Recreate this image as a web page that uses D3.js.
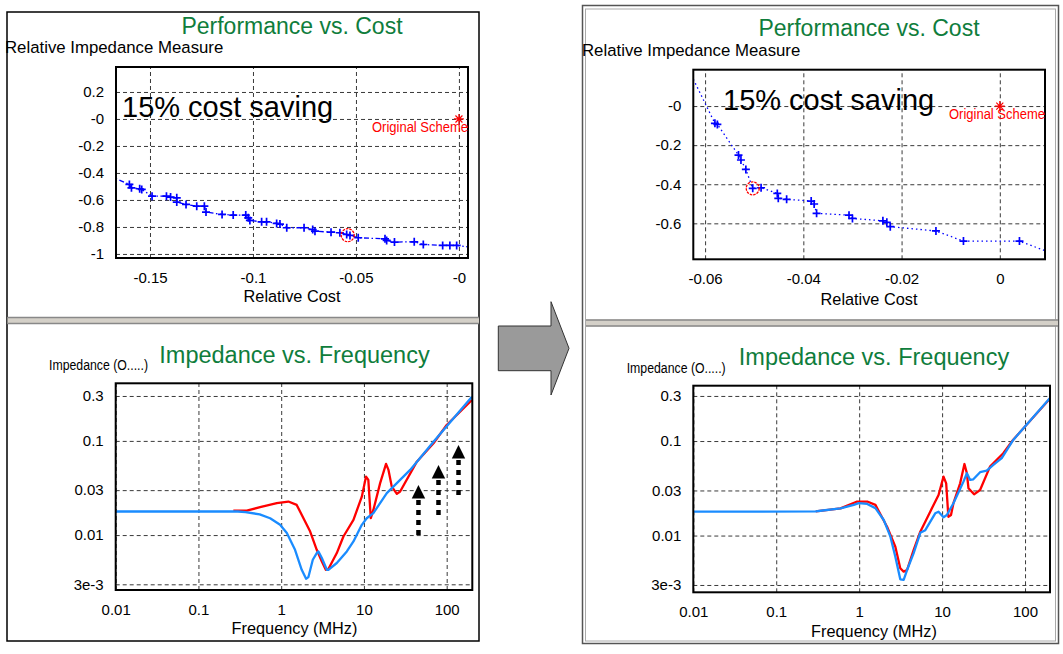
<!DOCTYPE html>
<html><head><meta charset="utf-8">
<script src="https://cdn.jsdelivr.net/npm/d3@7"></script>
<style>
html,body{margin:0;padding:0;background:#fff;}
svg{display:block;font-family:"Liberation Sans",Arial,sans-serif;}
</style></head><body>
<svg id="c" width="1063" height="654"></svg>
<script>
// ---------------- DATA ----------------
// Performance vs. Cost (before)
const costBefore = [-0.170,-0.160,-0.159,-0.155,-0.154,-0.149,-0.142,-0.140,-0.137,-0.137,-0.1325,-0.1273,-0.1236,-0.1228,-0.115,-0.1096,-0.1035,-0.1023,-0.1015,-0.0958,-0.0934,-0.0885,-0.0869,-0.0836,-0.0752,-0.0710,-0.0699,-0.0621,-0.0578,-0.0545,-0.0529,-0.0489,-0.0359,-0.0351,-0.0313,-0.0217,-0.0173,-0.0079,-0.0044,-0.0011,0.008];
const measureBefore = [-0.42,-0.485,-0.51,-0.517,-0.522,-0.572,-0.572,-0.579,-0.584,-0.616,-0.633,-0.646,-0.646,-0.690,-0.707,-0.712,-0.712,-0.732,-0.752,-0.762,-0.762,-0.774,-0.779,-0.806,-0.806,-0.819,-0.831,-0.839,-0.843,-0.856,-0.863,-0.880,-0.888,-0.900,-0.912,-0.910,-0.930,-0.937,-0.937,-0.937,-0.955];
const chosenBefore = [-0.054, -0.861];
// Performance vs. Cost (after)
const costAfter = [-0.0640,-0.0580,-0.0575,-0.0532,-0.0527,-0.0517,-0.0503,-0.0486,-0.0453,-0.0451,-0.0434,-0.0384,-0.0378,-0.0373,-0.0307,-0.0300,-0.0238,-0.0230,-0.0223,-0.0130,-0.0074,0.0040,0.0120];
const measureAfter = [0.22,-0.0885,-0.094,-0.251,-0.276,-0.324,-0.421,-0.418,-0.447,-0.472,-0.477,-0.486,-0.501,-0.549,-0.558,-0.575,-0.587,-0.595,-0.617,-0.639,-0.691,-0.691,-0.766];
const chosenAfter = [-0.0503, -0.421];
const originalScheme = [0, 0];

// Impedance vs. Frequency (before)
const freqBlueBefore = [0.01,0.3,0.37,0.55,0.735,0.97,1.17,1.47,1.77,2.0,2.13,2.41,2.69,2.82,3.10,3.56,3.72,4.70,6.21,7.47,9.43,10.8,13.0,18.9,25.0,36.2,69.3,202];
const zBlueBefore = [0.0178,0.0178,0.0175,0.0166,0.0151,0.01285,0.0105,0.00698,0.00428,0.00343,0.00357,0.00547,0.00644,0.0067,0.0057,0.00428,0.00428,0.00505,0.0067,0.00855,0.01285,0.0151,0.0171,0.0279,0.0356,0.0492,0.098,0.295];
const freqRedBefore = [0.264,0.384,0.556,0.885,1.22,1.54,2.24,2.69,3.10,3.46,3.72,4.70,5.65,7.47,9.43,10.6,11.3,12.1,13.0,15.7,18.5,19.8,21.7,25.0,27.4,43.6,69.3,100,202];
const zRedBefore = [0.0182,0.0182,0.0198,0.0218,0.0227,0.0209,0.0109,0.00698,0.00525,0.00428,0.00436,0.00644,0.00966,0.0145,0.0256,0.0418,0.0385,0.0151,0.0185,0.0356,0.057,0.0492,0.0327,0.0274,0.029,0.0602,0.0944,0.1475,0.272];
// annotation arrows (before)
const arrowFreq = [45.6, 79.6, 139];
const arrowFrom = [0.0089, 0.0145, 0.0237];
const arrowTo = [0.034, 0.0556, 0.0906];

// Impedance vs. Frequency (after)
const freqBlueAfter = [0.01,0.3,0.343,0.596,0.861,0.989,1.25,1.57,1.98,2.38,2.73,3.13,3.44,3.78,4.53,5.46,6.27,8.26,9.06,10.4,11.4,13.7,18.1,19.9,21.8,23.8,28.7,34.5,41.5,52.4,72.1,199];
const zBlueAfter = [0.0179,0.0180,0.0183,0.0194,0.0211,0.022,0.0216,0.0195,0.0146,0.00973,0.00597,0.00344,0.00339,0.00432,0.00649,0.0107,0.0114,0.0172,0.0179,0.0156,0.0165,0.022,0.0372,0.0456,0.0388,0.0394,0.0468,0.0486,0.0559,0.0658,0.1026,0.284];
const freqRedAfter = [0.3,0.596,0.946,1.25,1.57,2.17,2.73,3.13,3.44,3.78,4.53,5.46,7.19,9.06,10.4,11.2,11.9,12.8,13.7,16.5,18.6,19.9,20.8,24.3,28.7,37.8,54.7,71.6,199];
const zRedAfter = [0.0180,0.0194,0.0229,0.0229,0.0211,0.0124,0.00762,0.00451,0.00415,0.00432,0.00703,0.011,0.0179,0.0269,0.042,0.0357,0.0158,0.0165,0.022,0.0357,0.0571,0.0456,0.0316,0.0273,0.0303,0.0536,0.0743,0.1026,0.28];

// tick values / labels
const costTicksBefore = [-0.15,-0.1,-0.05,0];
const costLabelsBefore = ["-0.15","-0.1","-0.05","-0"];
const measureTicksBefore = [0.2,0,-0.2,-0.4,-0.6,-0.8,-1];
const measureLabelsBefore = ["0.2","-0","-0.2","-0.4","-0.6","-0.8","-1"];
const costTicksAfter = [-0.06,-0.04,-0.02,0];
const costLabelsAfter = ["-0.06","-0.04","-0.02","0"];
const measureTicksAfter = [0,-0.2,-0.4,-0.6];
const measureLabelsAfter = ["-0","-0.2","-0.4","-0.6"];
const freqTicks = [0.01,0.1,1,10,100];
const freqLabels = ["0.01","0.1","1","10","100"];
const zTicks = [0.3,0.1,0.03,0.01,0.003];
const zLabels = ["0.3","0.1","0.03","0.01","3e-3"];

// ---------------- DRAW ----------------
const svg = d3.select('#c');
const GREEN = '#0f7d3c';
const BLUE_LINE = '#1a8cff';
const defs = svg.append('defs');

// panel frames
svg.append('rect').attr('x',7).attr('y',12).attr('width',472).attr('height',629)
  .attr('fill','#fff').attr('stroke','#000').attr('stroke-width',1.5);
svg.append('rect').attr('x',582.5).attr('y',5.5).attr('width',476).attr('height',638)
  .attr('fill','#fff').attr('stroke','#555').attr('stroke-width',1.5);
svg.append('rect').attr('x',585.5).attr('y',9).attr('width',470).attr('height',632)
  .attr('fill','none').attr('stroke','#aaa').attr('stroke-width',1);

function separator(x0, x1, y) {
  svg.append('rect').attr('x',x0).attr('y',y).attr('width',x1-x0).attr('height',7)
    .attr('fill','#d4d0c8');
  svg.append('line').attr('x1',x0).attr('x2',x1).attr('y1',y+0.5).attr('y2',y+0.5).attr('stroke','#888').attr('stroke-width',1.5);
  svg.append('line').attr('x1',x0).attr('x2',x1).attr('y1',y+6.5).attr('y2',y+6.5).attr('stroke','#888').attr('stroke-width',1.5);
}
separator(7.5, 479, 317);
separator(586, 1058, 319.5);

// big gray arrow
svg.append('path')
  .attr('d','M498.3,326 L551,326 L551,301.7 L569,348.3 L551,395 L551,370.7 L498.3,370.7 Z')
  .attr('fill','#9a9a9a').attr('stroke','#333').attr('stroke-width',1);

function text(x, y, s, opts) {
  const t = svg.append('text').attr('x',x).attr('y',y).text(s)
    .attr('font-size',opts.size).attr('fill',opts.fill||'#000')
    .attr('text-anchor',opts.anchor||'start');
  if (opts.len) t.attr('textLength',opts.len).attr('lengthAdjust','spacingAndGlyphs');
  return t;
}

function styleGrid(sel) {
  sel.select('.domain').remove();
  sel.selectAll('.tick line').attr('stroke','#3a3a3a').attr('stroke-width',1).attr('stroke-dasharray','4,3');
  sel.selectAll('.tick text').remove();
}
function styleLabels(sel) {
  sel.select('.domain').remove();
  sel.selectAll('.tick line').remove();
  sel.selectAll('.tick text').attr('font-size',15).attr('fill','#000')
    .attr('font-family','"Liberation Sans",Arial,sans-serif');
}

function frame(c, x, y, xTicks, xLabels, yTicks, yLabels, id) {
  const w = c.x1 - c.x0, h = c.y1 - c.y0;
  svg.append('g').attr('transform',`translate(0,${c.y1})`)
    .call(d3.axisBottom(x).tickValues(xTicks).tickSize(-h).tickFormat('')).call(styleGrid);
  svg.append('g').attr('transform',`translate(${c.x0},0)`)
    .call(d3.axisLeft(y).tickValues(yTicks).tickSize(-w).tickFormat('')).call(styleGrid);
  svg.append('g').attr('transform',`translate(0,${c.y1})`)
    .call(d3.axisBottom(x).tickValues(xTicks).tickSize(0).tickPadding(14).tickFormat((d,i)=>xLabels[i])).call(styleLabels);
  svg.append('g').attr('transform',`translate(${c.x0},0)`)
    .call(d3.axisLeft(y).tickValues(yTicks).tickSize(0).tickPadding(12).tickFormat((d,i)=>yLabels[i])).call(styleLabels);
  defs.append('clipPath').attr('id',id).append('rect')
    .attr('x',c.x0).attr('y',c.y0).attr('width',w).attr('height',h);
  return svg.append('g').attr('clip-path',`url(#${id})`);
}
function border(c) {
  svg.append('rect').attr('x',c.x0).attr('y',c.y0).attr('width',c.x1-c.x0).attr('height',c.y1-c.y0)
    .attr('fill','none').attr('stroke','#000').attr('stroke-width',2);
}

function scatter(c) {
  const x = d3.scaleLinear().domain(c.xDomain).range([c.x0, c.x1]);
  const y = d3.scaleLinear().domain(c.yDomain).range([c.y1, c.y0]);
  text(c.titleX, c.titleY, 'Performance vs. Cost', {size:23, fill:GREEN, anchor:'middle'});
  text(c.ylabX, c.ylabY, 'Relative Impedance Measure', {size:16.8});
  text(c.titleX, c.xlabY, 'Relative Cost', {size:16.3, anchor:'middle'});
  const g = frame(c, x, y, c.xTicks, c.xLabels, c.yTicks, c.yLabels, c.id);
  const pts = c.xs.map((v,i)=>[v, c.ys[i]]);
  g.append('path').datum(pts)
    .attr('d', d3.line().x(d=>x(d[0])).y(d=>y(d[1])))
    .attr('fill','none').attr('stroke','#0000ff').attr('stroke-width',1.3)
    .attr('stroke-dasharray', c.dash);
  g.selectAll('path.mk').data(pts).join('path').attr('class','mk')
    .attr('d', d=>`M${x(d[0])-4},${y(d[1])}h8M${x(d[0])},${y(d[1])-4}v8`)
    .attr('stroke','#0000ff').attr('stroke-width',1.7);
  // chosen design circle
  g.append('circle').attr('cx',x(c.chosen[0])).attr('cy',y(c.chosen[1])).attr('r',6.5)
    .attr('fill','none').attr('stroke','#ff0000').attr('stroke-width',1.3).attr('stroke-dasharray','2.5,1');
  // original scheme star
  const ox = x(originalScheme[0]), oy = y(originalScheme[1]);
  g.append('path').attr('d',`M${ox-5},${oy}h10M${ox},${oy-5}v10M${ox-3.5},${oy-3.5}l7,7M${ox-3.5},${oy+3.5}l7,-7`)
    .attr('stroke','#ff0000').attr('stroke-width',1.2);
  border(c);
  text(c.saveX, c.saveY, '15% cost saving', {size:29});
  text(c.origX, c.origY, 'Original Scheme', {size:14, fill:'#ff0000', len:96});
}

function impedance(c) {
  const x = d3.scaleLog().domain(c.xDomain).range([c.x0, c.x1]);
  const y = d3.scaleLog().domain(c.yDomain).range([c.y1, c.y0]);
  text(c.ylabX, c.ylabY, 'Impedance (O.....)', {size:15.5, len:99});
  text(c.titleX, c.titleY, 'Impedance vs. Frequency', {size:23.5, fill:GREEN, anchor:'middle'});
  text(c.titleX, c.xlabY, 'Frequency (MHz)', {size:16.3, anchor:'middle'});
  const g = frame(c, x, y, freqTicks, freqLabels, zTicks, zLabels, c.id);
  const line = d3.line().x(d=>x(d[0])).y(d=>y(d[1]));
  g.append('path').datum(c.redF.map((v,i)=>[v,c.redZ[i]])).attr('d',line)
    .attr('fill','none').attr('stroke','#ff0000').attr('stroke-width',2.3).attr('stroke-linejoin','round');
  g.append('path').datum(c.blueF.map((v,i)=>[v,c.blueZ[i]])).attr('d',line)
    .attr('fill','none').attr('stroke',BLUE_LINE).attr('stroke-width',2.3).attr('stroke-linejoin','round');
  if (c.arrows) {
    c.arrows.f.forEach((f,i)=>{
      const ax = x(f), ty = y(c.arrows.to[i]), fy = y(c.arrows.from[i]);
      g.append('path').attr('d',`M${ax},${ty} L${ax+6.7},${ty+13.5} L${ax-6.7},${ty+13.5} Z`).attr('fill','#000');
      g.append('line').attr('x1',ax).attr('x2',ax).attr('y1',ty+15).attr('y2',fy)
        .attr('stroke','#000').attr('stroke-width',4.5).attr('stroke-dasharray','5,5');
    });
  }
  border(c);
}

scatter({id:'tl', x0:116, x1:468, y0:67, y1:258, xDomain:[-0.1665,0.0044], yDomain:[-1.03,0.385],
  xTicks:costTicksBefore, xLabels:costLabelsBefore, yTicks:measureTicksBefore, yLabels:measureLabelsBefore,
  xs:costBefore, ys:measureBefore, chosen:chosenBefore, dash:'5,2.5,1.5,2.5',
  titleX:292, titleY:33.5, ylabX:5, ylabY:53, xlabY:302, saveX:122, saveY:117, origX:372, origY:132});
scatter({id:'tr', x0:693.3, x1:1045, y0:69.7, y1:259.3, xDomain:[-0.0624,0.0092], yDomain:[-0.784,0.186],
  xTicks:costTicksAfter, xLabels:costLabelsAfter, yTicks:measureTicksAfter, yLabels:measureLabelsAfter,
  xs:costAfter, ys:measureAfter, chosen:chosenAfter, dash:'1.5,3',
  titleX:869, titleY:35.7, ylabX:582, ylabY:56, xlabY:305, saveX:723, saveY:110, origX:949, origY:119});
impedance({id:'bl', x0:115.7, x1:472.3, y0:383.3, y1:590, xDomain:[0.01,204], yDomain:[0.00261,0.409],
  blueF:freqBlueBefore, blueZ:zBlueBefore, redF:freqRedBefore, redZ:zRedBefore,
  arrows:{f:arrowFreq, from:arrowFrom, to:arrowTo},
  titleX:294.5, titleY:362.7, ylabX:49, ylabY:370, xlabY:634});
impedance({id:'br', x0:693.3, x1:1050, y0:385.7, y1:592.3, xDomain:[0.01,200], yDomain:[0.00251,0.385],
  blueF:freqBlueAfter, blueZ:zBlueAfter, redF:freqRedAfter, redZ:zRedAfter,
  titleX:874, titleY:365, ylabX:626.7, ylabY:372.7, xlabY:636.5});
</script>
</body></html>
